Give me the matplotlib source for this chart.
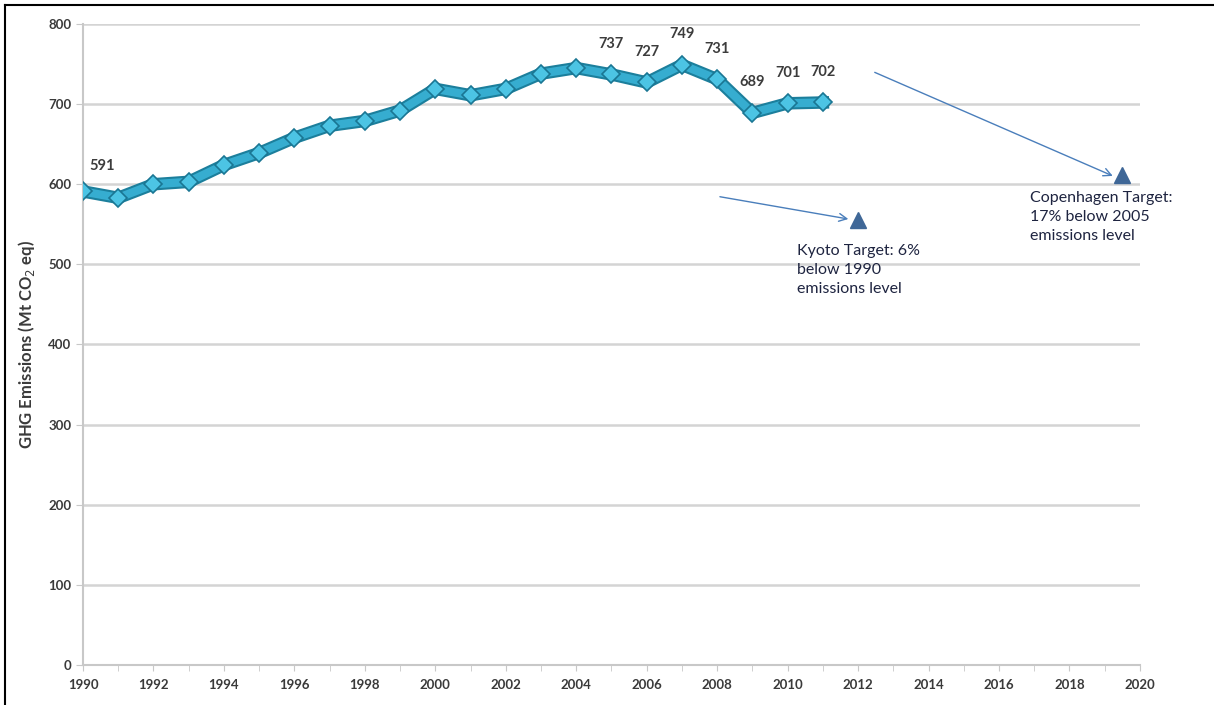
import matplotlib.pyplot as plt
from matplotlib.lines import Line2D

# Annual GHG emissions (Mt CO2 eq)
years = list(range(1990, 2012))
emissions = [591, 583, 600, 603, 624, 639, 658, 673, 679, 692, 719,
             711, 719, 738, 745, 737, 727, 749, 731, 689, 701, 702]
labelled_years = [1990, 2005, 2006, 2007, 2008, 2009, 2010, 2011]

# Targets
target_years = [2012, 2019.5]
target_values = [555, 612]
target_texts = ["Kyoto Target: 6%\nbelow 1990\nemissions level",
                "Copenhagen Target:\n17% below 2005\nemissions level"]

plt.rcParams['font.family'] = ['Lato', 'DejaVu Sans']

fig = plt.figure(figsize=(12.14, 7.05), dpi=100)
ax = fig.add_axes([0.0684, 0.0567, 0.8706, 0.9093])

ax.set_xlim(1990, 2020)
ax.set_ylim(0, 800)
ax.set_xticks(range(1990, 2021, 2))
ax.set_xticks(range(1990, 2021), minor=True)
ax.set_yticks(range(0, 801, 100))
ax.grid(axis='y', color='#d4d4d4', lw=1.8)
ax.set_axisbelow(True)
for side in ['top', 'right']:
    ax.spines[side].set_visible(False)
for side in ['left', 'bottom']:
    ax.spines[side].set_color('#c8c8c8')
    ax.spines[side].set_linewidth(1.5)
ax.tick_params(axis='x', which='both', direction='out', length=4, color='#c8c8c8',
               labelsize=9.5, labelcolor='#3a3a3a', pad=6)
ax.tick_params(axis='y', direction='out', length=5, color='#c8c8c8',
               labelsize=9.5, labelcolor='#3a3a3a')
for lab in ax.get_xticklabels() + ax.get_yticklabels():
    lab.set_fontweight('bold')

ax.set_ylabel('GHG Emissions (Mt CO$_2$ eq)', fontsize=12, fontweight='bold',
              color='#3a3a3a', labelpad=8)

# emissions line with darker outline
ax.plot(years, emissions, color='#1c7f9c', lw=9, solid_joinstyle='round', zorder=3)
ax.plot(years, emissions, color='#36add0', lw=6, solid_joinstyle='round', zorder=4)
ax.plot(years, emissions, ls='none', marker='D', ms=9.5, mfc='#4cc4e4',
        mec='#1a7693', mew=1.2, zorder=5)

for yr, val in zip(years, emissions):
    if yr in labelled_years:
        dx = 14 if yr == 1990 else 0
        dy = 13 if yr == 1990 else 17
        ax.annotate(str(val), (yr, val), xytext=(dx, dy), textcoords='offset points',
                    ha='center', va='bottom', fontsize=10.5, fontweight='bold',
                    color='#3c3c3c')

# target markers
ax.plot(target_years, target_values, ls='none', marker='^', ms=11,
        color='#3f6797', zorder=5, clip_on=False)

ax.annotate('', xy=(2011.8, 556), xytext=(2008.0, 585),
            arrowprops=dict(arrowstyle='->', color='#4a7ebb', lw=1, mutation_scale=14))
ax.annotate('', xy=(2019.3, 609), xytext=(2012.4, 741),
            arrowprops=dict(arrowstyle='->', color='#4a7ebb', lw=1, mutation_scale=14))

ax.text(2010.27, 525, target_texts[0], fontsize=11.5, color='#1e2440',
        va='top', ha='left', linespacing=1.45)
ax.text(2016.88, 591, target_texts[1], fontsize=11.5, color='#1e2440',
        va='top', ha='left', linespacing=1.45)

# outer frame (left and top edges)
fig.add_artist(Line2D([0.0045, 0.0045], [0, 0.993], transform=fig.transFigure,
                      color='black', lw=1.5))
fig.add_artist(Line2D([0.0045, 1], [0.993, 0.993], transform=fig.transFigure,
                      color='black', lw=1.5))

fig.savefig('out.png', dpi=100)
